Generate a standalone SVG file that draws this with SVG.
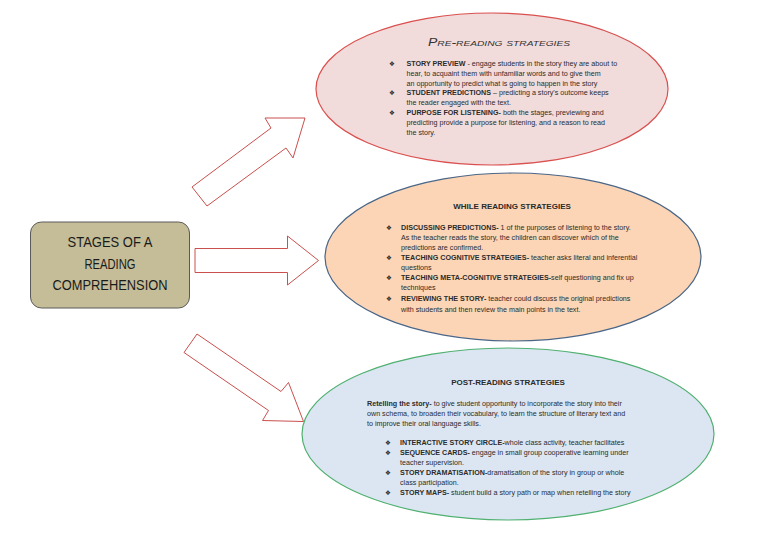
<svg xmlns="http://www.w3.org/2000/svg" width="768" height="543" viewBox="0 0 768 543">
<style>
.arrow{fill:#ffffff;stroke:#c9504d;stroke-width:1}
.body{font-family:"Liberation Sans",Arial,sans-serif;font-size:7.15px;fill:#2b2b2b}
.b{font-weight:bold}
.bul{font-family:"DejaVu Sans",sans-serif;font-size:6.5px;fill:#2b2b2b}
.ttl{font-family:"Liberation Sans",Arial,sans-serif;font-size:8px;font-weight:bold;fill:#2b2b2b;text-anchor:middle}
.main{font-family:"Liberation Sans",Arial,sans-serif;font-size:15px;fill:#1a1a1a;text-anchor:middle}
</style>
<rect width="768" height="543" fill="#ffffff"/>
<g id="connectors">
<polygon class="arrow" points="192,187 271,128 265,118 305,118 293,158 286,148 207,206"/>
<polygon class="arrow" points="195,248.5 287.5,248.5 287.5,236 318.5,260.5 287.5,285 287.5,272.5 195,272.5"/>
<polygon class="arrow" points="197,334 281,391.5 288.5,382.5 303.5,421.5 262.5,420.5 268.5,410.5 184,352.5"/>
</g>
<g id="stages">
<rect x="30.5" y="222" width="159" height="86" rx="11" fill="#c4bd97" stroke="#5a5a5a" stroke-width="1"/>
<text class="main" x="110" y="247" textLength="85" lengthAdjust="spacingAndGlyphs">STAGES OF A</text>
<text class="main" x="110" y="268.5" textLength="51" lengthAdjust="spacingAndGlyphs">READING</text>
<text class="main" x="110" y="290" textLength="115" lengthAdjust="spacingAndGlyphs">COMPREHENSION</text>
</g>
<g id="pre-reading">
<ellipse cx="492" cy="89" rx="176" ry="76" fill="#f2dcdb" stroke="#d9504f" stroke-width="1.2"/>
<text x="499" y="46" font-family="Liberation Sans, Arial, sans-serif" font-size="11" font-variant="small-caps" font-style="italic" fill="#333" text-anchor="middle" textLength="142" lengthAdjust="spacingAndGlyphs">Pre-reading strategies</text>
<text class="bul" x="389" y="66">❖</text>
<text class="bul" x="389" y="95">❖</text>
<text class="bul" x="389" y="115">❖</text>
<text class="body" x="406.5" y="66"><tspan class="b">STORY PREVIEW</tspan> - engage students in the story they are about to</text>
<text class="body" x="406.5" y="76">hear, to acquaint them with unfamiliar words and to give them</text>
<text class="body" x="406.5" y="85.5">an opportunity to predict what is going to happen in the story</text>
<text class="body" x="406.5" y="95"><tspan class="b">STUDENT PREDICTIONS</tspan> – predicting a story's outcome keeps</text>
<text class="body" x="406.5" y="105">the reader engaged with the text.</text>
<text class="body" x="406.5" y="115"><tspan class="b">PURPOSE FOR LISTENING-</tspan> both the stages, previewing and</text>
<text class="body" x="406.5" y="125">predicting provide a purpose for listening, and a reason to read</text>
<text class="body" x="406.5" y="135">the story.</text>
</g>
<g id="while-reading">
<ellipse cx="513" cy="257" rx="188" ry="84" fill="#fbd5b5" stroke="#4a6688" stroke-width="1.2"/>
<text class="ttl" x="512" y="209">WHILE READING STRATEGIES</text>
<text class="bul" x="386" y="229.5">❖</text>
<text class="bul" x="386" y="260">❖</text>
<text class="bul" x="386" y="280">❖</text>
<text class="bul" x="386" y="301">❖</text>
<text class="body" x="401" y="229.5"><tspan class="b">DISCUSSING PREDICTIONS-</tspan> 1 of the purposes of listening to the story.</text>
<text class="body" x="401" y="240">As the teacher reads the story, the children can discover which of the</text>
<text class="body" x="401" y="250">predictions are confirmed.</text>
<text class="body" x="401" y="260"><tspan class="b">TEACHING COGNITIVE STRATEGIES-</tspan> teacher asks literal and inferential</text>
<text class="body" x="401" y="270">questions</text>
<text class="body" x="401" y="280"><tspan class="b">TEACHING META-COGNITIVE STRATEGIES-</tspan>self questioning and fix up</text>
<text class="body" x="401" y="290">techniques</text>
<text class="body" x="401" y="301"><tspan class="b">REVIEWING THE STORY-</tspan> teacher could discuss the original predictions</text>
<text class="body" x="401" y="311.5">with students and then review the main points in the text.</text>
</g>
<g id="post-reading">
<ellipse cx="508" cy="434" rx="206" ry="86" fill="#dce6f2" stroke="#4fb06f" stroke-width="1.2"/>
<text class="ttl" x="508" y="384.5">POST-READING STRATEGIES</text>
<text class="body" x="367" y="405.5"><tspan class="b">Retelling the story-</tspan> to give student opportunity to incorporate the story into their</text>
<text class="body" x="367" y="415.5">own schema, to broaden their vocabulary, to learn the structure of literary text and</text>
<text class="body" x="367" y="426">to improve their oral language skills.</text>
<text class="bul" x="385" y="444.5">❖</text>
<text class="bul" x="385" y="454.5">❖</text>
<text class="bul" x="385" y="474.5">❖</text>
<text class="bul" x="385" y="494.5">❖</text>
<text class="body" x="400" y="444.5"><tspan class="b">INTERACTIVE STORY CIRCLE-</tspan>whole class activity, teacher facilitates</text>
<text class="body" x="400" y="454.5"><tspan class="b">SEQUENCE CARDS-</tspan> engage in small group cooperative learning under</text>
<text class="body" x="400" y="464.5">teacher supervision.</text>
<text class="body" x="400" y="474.5"><tspan class="b">STORY DRAMATISATION-</tspan>dramatisation of the story in group or whole</text>
<text class="body" x="400" y="484.5">class participation.</text>
<text class="body" x="400" y="494.5"><tspan class="b">STORY MAPS-</tspan> student build a story path or map when retelling the story</text>
</g>
</svg>
